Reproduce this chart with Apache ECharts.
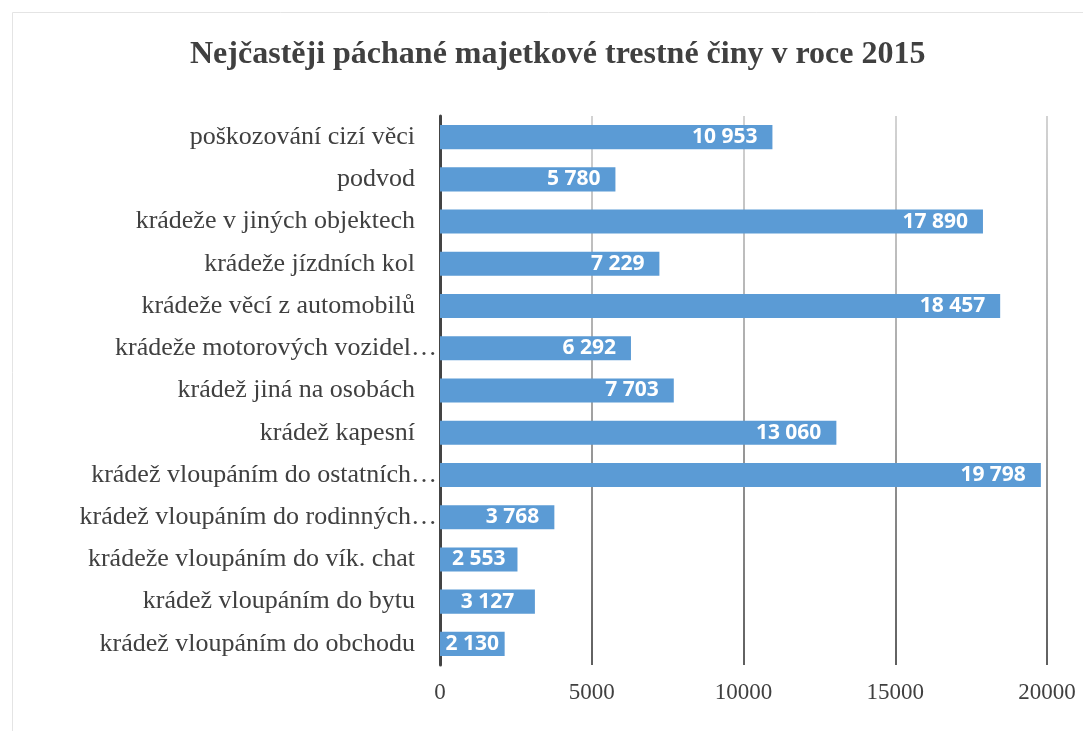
<!DOCTYPE html>
<html>
<head>
<meta charset="utf-8">
<script src="https://cdn.jsdelivr.net/npm/echarts@6/dist/echarts.min.js"></script>
<style>
  html, body { margin: 0; padding: 0; background: #fff; }
  #chart { width: 1083px; height: 731px; }
</style>
</head>
<body>
<div id="chart"></div>
<script>
// Data (top to bottom)
const categories = [
  'poškozování cizí věci',
  'podvod',
  'krádeže v jiných objektech',
  'krádeže jízdních kol',
  'krádeže věcí z automobilů',
  'krádeže motorových vozidel…',
  'krádež jiná na osobách',
  'krádež kapesní',
  'krádež vloupáním do ostatních…',
  'krádež vloupáním do rodinných…',
  'krádeže vloupáním do vík. chat',
  'krádež vloupáním do bytu',
  'krádež vloupáním do obchodu'
];
const counts = [10953, 5780, 17890, 7229, 18457, 6292, 7703, 13060, 19798, 3768, 2553, 3127, 2130];

const colors = {
  bar: '#5b9bd5',
  text: '#404040',
  axis: '#444444',
  frame: '#e4e4e4'
};

const serif = '"Liberation Serif", "DejaVu Serif", serif';
const xMax = 20000;

// 10953 -> "10 953"
function fmtThousands(v) {
  return String(v).replace(/\B(?=(\d{3})+(?!\d))/g, ' ');
}

// Excel keeps the label at the inner end, but centres it when the bar is too short
function barItem(v) {
  const short = v / xMax < 0.165;
  return { value: v, label: short ? { position: 'inside' } : {} };
}

const chart = echarts.init(document.getElementById('chart'));

chart.setOption({
  backgroundColor: '#fff',
  animation: false,
  title: {
    text: 'Nejčastěji páchané majetkové trestné činy v roce 2015',
    left: 185,
    top: 34,
    textStyle: { fontFamily: serif, fontSize: 32, fontWeight: 'bold', color: colors.text }
  },
  graphic: [{
    type: 'rect',
    shape: { x: 12.5, y: 12.5, width: 1100, height: 760 },
    style: { fill: 'none', stroke: colors.frame, lineWidth: 1 },
    silent: true
  }],
  grid: { left: 440, right: 36, top: 116, bottom: 66 },
  xAxis: {
    type: 'value',
    min: 0,
    max: xMax,
    interval: 5000,
    axisLine: { show: false },
    axisTick: { show: false },
    axisLabel: {
      color: colors.text, fontFamily: serif, fontSize: 23, margin: 16,
      formatter: v => String(v)
    },
    splitLine: {
      lineStyle: {
        width: 1.5,
        color: {
          type: 'linear', x: 0, y: 116, x2: 0, y2: 665, global: true,
          colorStops: [
            { offset: 0, color: '#c4c4c4' },
            { offset: 0.5, color: '#8a8a8a' },
            { offset: 1, color: '#2a2a2a' }
          ]
        }
      }
    }
  },
  yAxis: {
    type: 'category',
    data: categories,
    inverse: true,
    axisLine: { show: true, lineStyle: { color: colors.axis, width: 3 } },
    axisTick: { show: false },
    axisLabel: {
      color: colors.text, fontFamily: serif, fontSize: 26, margin: 3,
      // shortened labels run up to the axis, the others keep a gap
      formatter: v => v.endsWith('…') ? '{t|' + v + '}' : '{n|' + v + '}',
      rich: {
        t: { fontFamily: serif, fontSize: 26, color: colors.text },
        n: { fontFamily: serif, fontSize: 26, color: colors.text, padding: [0, 22, 0, 0] }
      }
    }
  },
  series: [{
    type: 'bar',
    data: counts.map(barItem),
    barCategoryGap: '43%',
    itemStyle: { color: colors.bar },
    label: {
      show: true,
      position: 'insideRight',
      distance: 15,
      color: '#fff',
      fontFamily: '"Open Sans", sans-serif',
      fontWeight: 'bold',
      fontSize: 21,
      formatter: p => fmtThousands(p.value)
    }
  }]
});
</script>
</body>
</html>
